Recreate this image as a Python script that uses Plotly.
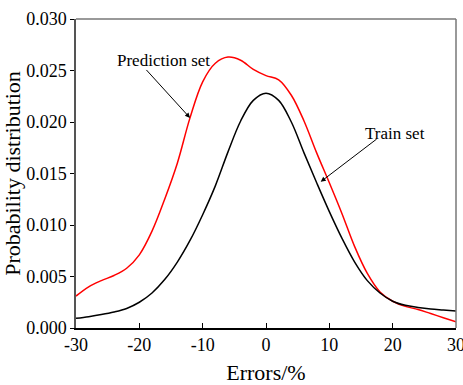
import plotly.graph_objects as go

grid_x = [-30, -28, -26, -24, -22, -20, -18, -16, -14, -12, -10, -8, -6, -4, -2, 0,
          2, 4, 6, 8, 10, 12, 14, 16, 18, 20, 22, 24, 26, 28, 30]
prediction_set = [0.0031, 0.0040, 0.0046, 0.0051, 0.0058, 0.0071, 0.0094, 0.0125, 0.0160,
                  0.0204, 0.0239, 0.0257, 0.0263, 0.0260, 0.0251, 0.0245, 0.0241, 0.0226,
                  0.0201, 0.0170, 0.0141, 0.0111, 0.0079, 0.0053, 0.0035, 0.0026, 0.0021,
                  0.0018, 0.0014, 0.0010, 0.0006]
train_set = [0.00094, 0.0011, 0.0013, 0.00155, 0.0019, 0.0025, 0.0034, 0.0047, 0.0064,
             0.0085, 0.0110, 0.0138, 0.0171, 0.0201, 0.0221, 0.0228, 0.0221, 0.0200,
             0.0170, 0.0141, 0.0113, 0.0087, 0.0064, 0.0046, 0.0034, 0.0026, 0.0022,
             0.0020, 0.00185, 0.00175, 0.00165]
x_ticks = [-30, -20, -10, 0, 10, 20, 30]
y_ticks = [0.0, 0.005, 0.010, 0.015, 0.020, 0.025, 0.030]

FONT = "Liberation Serif"
TICKFONT = dict(family=FONT, size=18, color="black")

fig = go.Figure()
fig.add_trace(go.Scatter(x=grid_x, y=prediction_set, mode="lines", name="Prediction set",
                         line=dict(color="#ff0000", width=1.5, shape="spline", smoothing=1.0)))
fig.add_trace(go.Scatter(x=grid_x, y=train_set, mode="lines", name="Train set",
                         line=dict(color="#000000", width=1.5, shape="spline", smoothing=1.0)))

fig.add_annotation(x=-12.0, y=0.0204, ax=-19.1, ay=0.0252, axref="x", ayref="y",
                   xref="x", yref="y", text="", showarrow=True, arrowhead=2,
                   arrowsize=1, arrowwidth=1, arrowcolor="black")
fig.add_annotation(x=-16.2, y=0.0260, xref="x", yref="y", text="Prediction set",
                   showarrow=False, font=dict(family=FONT, size=17, color="black"))
fig.add_annotation(x=8.64, y=0.0142, ax=17.7, ay=0.01845, axref="x", ayref="y",
                   xref="x", yref="y", text="", showarrow=True, arrowhead=2,
                   arrowsize=1, arrowwidth=1, arrowcolor="black")
fig.add_annotation(x=20.4, y=0.0189, xref="x", yref="y", text="Train set",
                   showarrow=False, font=dict(family=FONT, size=17, color="black"))

fig.add_shape(type="line", xref="paper", yref="paper", x0=0, x1=1, y0=1, y1=1,
              line=dict(color="#777777", width=1.5))
fig.add_shape(type="line", xref="paper", yref="paper", x0=1, x1=1, y0=0, y1=1,
              line=dict(color="#777777", width=1.5))

fig.update_layout(
    template="none",
    width=463, height=385,
    margin=dict(l=76, r=7, t=19, b=57),
    paper_bgcolor="white", plot_bgcolor="white",
    showlegend=False,
    font=dict(family=FONT, size=18, color="black"),
    xaxis=dict(range=[-30, 30], tickmode="array", tickvals=x_ticks,
               ticktext=[str(v) for v in x_ticks], tickfont=TICKFONT,
               ticks="inside", ticklen=5, tickcolor="black", tickwidth=1,
               ticklabeloverflow="allow", automargin=False,
               showline=True, linecolor="black", linewidth=1.5, showgrid=False, zeroline=False,
               title=dict(text="Errors/%", standoff=16)),
    yaxis=dict(range=[0, 0.030], tickmode="array", tickvals=y_ticks,
               ticktext=[f"{v:.3f}" for v in y_ticks], tickfont=TICKFONT,
               ticks="outside", ticklen=4, tickcolor="black", tickwidth=1, automargin=False,
               showline=True, linecolor="#555555", linewidth=1.5, showgrid=False, zeroline=False,
               title=dict(text="Probability distribution", standoff=4)),
)

fig.write_html("out.html")
